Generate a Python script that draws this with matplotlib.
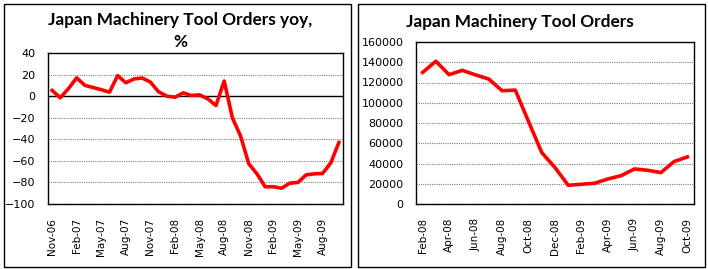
import matplotlib
matplotlib.use("Agg")
from matplotlib import pyplot as plt
from matplotlib.patches import Rectangle

# left chart: yoy %, Nov-06 .. Oct-09
yoy_months = ['Nov-06', 'Dec-06', 'Jan-07', 'Feb-07', 'Mar-07', 'Apr-07', 'May-07', 'Jun-07',
              'Jul-07', 'Aug-07', 'Sep-07', 'Oct-07', 'Nov-07', 'Dec-07', 'Jan-08', 'Feb-08',
              'Mar-08', 'Apr-08', 'May-08', 'Jun-08', 'Jul-08', 'Aug-08', 'Sep-08', 'Oct-08',
              'Nov-08', 'Dec-08', 'Jan-09', 'Feb-09', 'Mar-09', 'Apr-09', 'May-09', 'Jun-09',
              'Jul-09', 'Aug-09', 'Sep-09', 'Oct-09']
yoy_values = [5.3, -1.5, 7, 17, 10, 8, 6, 3.7, 19, 12.4, 16, 16.8, 13, 4, 0, -1,
              3, 0.6, 1.2, -2.5, -8.7, 14, -20, -37, -62.7, -72, -84, -84, -85.4, -80.7,
              -80, -73, -72, -71.7, -62, -43]

# right chart: level, Feb-08 .. Oct-09
lvl_months = ['Feb-08', 'Mar-08', 'Apr-08', 'May-08', 'Jun-08', 'Jul-08', 'Aug-08', 'Sep-08',
              'Oct-08', 'Nov-08', 'Dec-08', 'Jan-09', 'Feb-09', 'Mar-09', 'Apr-09', 'May-09',
              'Jun-09', 'Jul-09', 'Aug-09', 'Sep-09', 'Oct-09']
lvl_values = [130000, 141000, 127700, 132000, 127500, 123400, 111900, 112500, 81500, 50800,
              36000, 18500, 19500, 20500, 24750, 28000, 34600, 33300, 31000, 42000, 46500]

W, H = 708, 269
fig = plt.figure(figsize=(W / 100, H / 100), dpi=100)

def px_box(x0, y0, x1, y1):
    """pixel box (top-left origin) -> figure fraction rect"""
    return [x0 / W, 1 - y1 / H, (x1 - x0) / W, (y1 - y0) / H]

def style_axes(ax, labels, step, ylim, yticks):
    n = len(labels)
    ax.set_xlim(-0.5, n - 0.5)
    ax.set_ylim(*ylim)
    ax.set_yticks(yticks)
    ax.set_xticks(range(0, n, step))
    ax.set_xticklabels(labels[::step], rotation=90, fontsize=7.5)
    ax.tick_params(axis='both', length=0)
    ax.tick_params(axis='x', pad=10)
    ax.tick_params(axis='y', pad=9, labelsize=8)
    for s in ax.spines.values():
        s.set_linewidth(1.0)
        s.set_color('black')
    ax.grid(axis='y', color='#808080', linestyle=(0, (1, 1)), linewidth=0.8)
    ax.set_axisbelow(True)

# left panel
ax1 = fig.add_axes(px_box(48, 53, 343, 204))
x1 = list(range(len(yoy_values)))
ax1.plot(x1, yoy_values, color='#ff0000', lw=2.6, solid_joinstyle='round', zorder=3)
style_axes(ax1, yoy_months, 3, (-100, 40), range(-100, 41, 20))
ax1.axhline(0, color='black', lw=1.0, zorder=2)

# right panel
ax2 = fig.add_axes(px_box(416, 42, 694, 204))
x2 = list(range(len(lvl_values)))
ax2.plot(x2, lvl_values, color='#ff0000', lw=2.6, solid_joinstyle='round', zorder=3)
style_axes(ax2, lvl_months, 2, (0, 160000), range(0, 160001, 20000))

# chart area borders
for x0, x1b in [(3.5, 350.5), (357.5, 704.5)]:
    fig.patches.append(Rectangle((x0 / W, 1 - 266.5 / H), (x1b - x0) / W, 263 / H,
                                 transform=fig.transFigure, fill=False,
                                 edgecolor='black', linewidth=1.0))

# titles
fig.text(180 / W, 1 - 20 / H, 'Japan Machinery Tool Orders yoy,', ha='center', va='center',
         fontsize=12.4, fontweight='bold', family='Lato')
fig.text(180 / W, 1 - 42 / H, '%', ha='center', va='center',
         fontsize=12.4, fontweight='bold', family='Lato')
fig.text(520 / W, 1 - 22 / H, 'Japan Machinery Tool Orders', ha='center', va='center',
         fontsize=12.4, fontweight='bold', family='Lato')

fig.savefig('out.png', dpi=100)
